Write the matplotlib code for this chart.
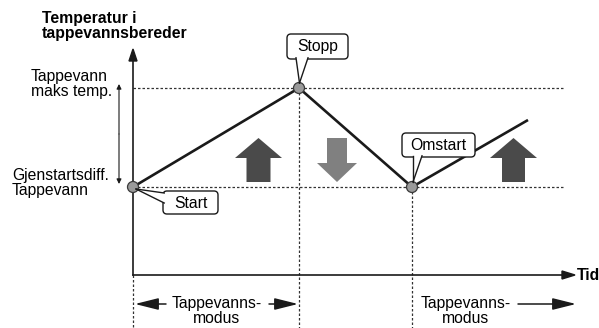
import matplotlib
matplotlib.use("Agg")
import matplotlib.pyplot as plt
from matplotlib.patches import FancyBboxPatch, Polygon, Circle

plt.rcParams['font.family'] = ['Liberation Sans', 'DejaVu Sans']

# Diagram data (time, temperature) in drawing units
time_pts = [133, 299, 412, 528]
temp_pts = [187, 88, 187, 120]
marker_idx = [0, 1, 2]
callout_labels = ["Start", "Stopp", "Omstart"]
level_labels = ["Tappevann\nmaks temp.", "Gjenstartsdiff.\nTappevann"]
levels = [88, 187]
y_title = "Temperatur i\ntappevannsbereder"
x_title = "Tid"
mode_label = "Tappevanns-\nmodus"

fig = plt.figure(figsize=(5.99, 3.28), dpi=100)
ax = fig.add_axes([0, 0, 1, 1])
ax.set_xlim(0, 599)
ax.set_ylim(328, 0)
ax.axis('off')

dark = '#1a1a1a'
FS = 11.3
dot_kw = dict(color='#333333', lw=0.9, ls=(0, (2, 1.6)))

# dotted reference lines
for lv in levels:
    ax.plot([133, 564], [lv, lv], **dot_kw, zorder=1)
ax.plot([133, 133], [275, 328], **dot_kw)
ax.plot([299, 299], [88, 328], **dot_kw, zorder=1)
ax.plot([412, 412], [187, 328], **dot_kw, zorder=1)

# axes with arrows
ax.plot([133, 133], [275, 58], color=dark, lw=1.2, zorder=2)
ax.add_patch(Polygon([[129, 61], [137, 61], [133, 49]], closed=True, color=dark, zorder=2))
ax.plot([133, 565], [275, 275], color=dark, lw=1.2, zorder=2)
ax.add_patch(Polygon([[562, 271], [562, 279], [575, 275]], closed=True, color=dark, zorder=2))

ax.text(42, 26, y_title, fontsize=FS, fontweight='bold', ha='left', va='center', linespacing=1.0)
ax.text(577, 276, x_title, fontsize=FS, fontweight='bold', ha='left', va='center')

# small double arrow for range
arr_small = dict(arrowstyle='-|>', color=dark, lw=0.8, mutation_scale=7, shrinkA=0, shrinkB=0)
ax.annotate('', xy=(119, 84), xytext=(119, 134), arrowprops=arr_small)
ax.annotate('', xy=(119, 184), xytext=(119, 134), arrowprops=arr_small)

ax.text(31, 84, level_labels[0], fontsize=FS, ha='left', va='center', linespacing=1.0)
ax.text(12, 183, level_labels[1], fontsize=FS, ha='left', va='center', linespacing=1.0)

# temperature line
ax.plot(time_pts, temp_pts, color=dark, lw=1.9, zorder=3, solid_capstyle='butt')
for i in marker_idx:
    ax.add_patch(Circle((time_pts[i], temp_pts[i]), 5.5, facecolor='#9a9a9a',
                        edgecolor='#3a3a3a', lw=0.9, zorder=5))

# big arrows
def block_arrow(xc, ytop, ybot, up, color, hw, sw, hh):
    if up:
        pts = [[xc, ytop], [xc + hw, ytop + hh], [xc + sw, ytop + hh], [xc + sw, ybot],
               [xc - sw, ybot], [xc - sw, ytop + hh], [xc - hw, ytop + hh]]
    else:
        pts = [[xc, ybot], [xc + hw, ybot - hh], [xc + sw, ybot - hh], [xc + sw, ytop],
               [xc - sw, ytop], [xc - sw, ybot - hh], [xc - hw, ybot - hh]]
    ax.add_patch(Polygon(pts, closed=True, facecolor=color, edgecolor='none', zorder=2))

block_arrow(258.5, 138, 182, True, '#4a4a4a', 23.5, 12, 20)
block_arrow(337, 138, 182, False, '#808080', 20, 10, 19)
block_arrow(513.5, 138, 182, True, '#4a4a4a', 23.5, 11.5, 20)

# callouts
def callout(x0, y0, x1, y1, text, ptr):
    box = FancyBboxPatch((x0, y0), x1 - x0, y1 - y0,
                         boxstyle='round,pad=0,rounding_size=4',
                         facecolor='white', edgecolor=dark, lw=1.0, zorder=6)
    ax.add_patch(box)
    ax.add_patch(Polygon(ptr, closed=True, facecolor='white', edgecolor='none', zorder=7))
    ax.plot([ptr[0][0], ptr[1][0]], [ptr[0][1], ptr[1][1]], color=dark, lw=1.0, zorder=8)
    ax.plot([ptr[2][0], ptr[1][0]], [ptr[2][1], ptr[1][1]], color=dark, lw=1.0, zorder=8)
    ax.text((x0 + x1) / 2, (y0 + y1) / 2 + 0.5, text, fontsize=FS, ha='center',
            va='center', zorder=9)

callout(163, 191, 218, 214, callout_labels[0],
        [[164.2, 193], [136, 189], [164.2, 203]])
callout(287, 34, 348, 59, callout_labels[1],
        [[296, 57.8], [299.5, 83], [308, 57.8]])
callout(402, 133, 475, 157, callout_labels[2],
        [[413, 155.8], [413, 182], [422, 155.8]])

# mode arrows at bottom
arr_big = dict(arrowstyle='-|>,head_length=1.2,head_width=0.3', color=dark, lw=1.1,
               mutation_scale=12, shrinkA=0, shrinkB=0)
ax.text(217, 311, mode_label, fontsize=FS, ha='center', va='center', linespacing=0.95)
ax.annotate('', xy=(135, 304), xytext=(166, 304), arrowprops=arr_big)
ax.annotate('', xy=(298, 304), xytext=(269, 304), arrowprops=arr_big)
ax.text(466, 311, mode_label, fontsize=FS, ha='center', va='center', linespacing=0.95)
ax.annotate('', xy=(576, 304), xytext=(518, 304), arrowprops=arr_big)

fig.savefig('out.png', dpi=100)
